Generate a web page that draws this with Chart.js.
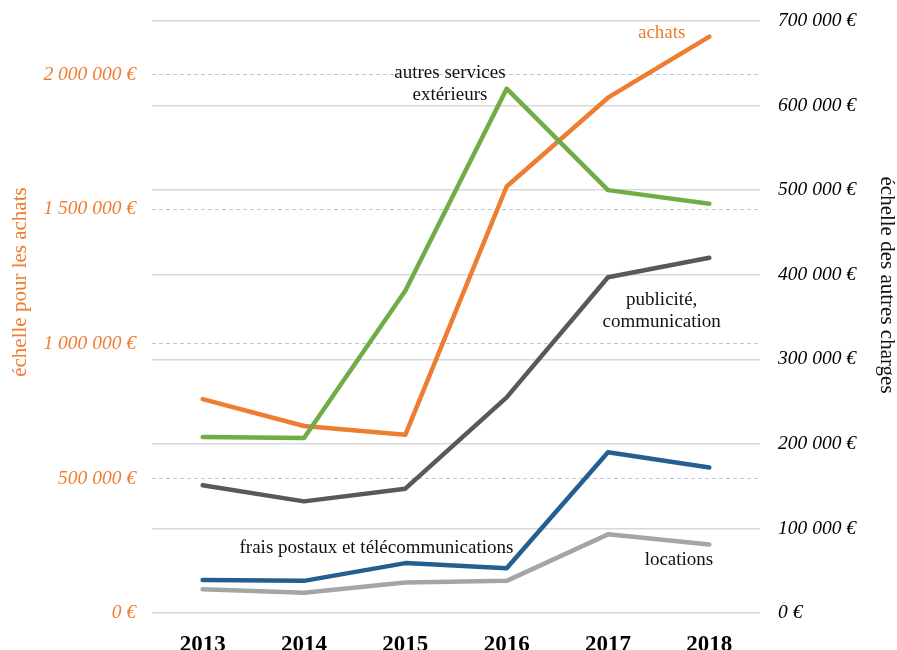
<!DOCTYPE html>
<html lang="fr">
<head>
<meta charset="utf-8">
<title>Achats et autres charges 2013-2018</title>
<script src="https://cdn.jsdelivr.net/npm/chart.js@4/dist/chart.umd.min.js"></script>
<style>
  html, body { margin: 0; padding: 0; background: #fff; }
  #chart-box { width: 897px; height: 650px; }
</style>
</head>
<body>
<div id="chart-box"><canvas id="charges-chart" width="897" height="650"></canvas></div>
<script>
// années et montants (en euros)
const annees = ["2013", "2014", "2015", "2016", "2017", "2018"];
const achats = [795000, 695000, 662000, 1585000, 1915000, 2142000];
const autresServices = [208000, 207000, 381000, 620000, 500000, 484000];
const publicite = [151000, 132000, 147000, 255000, 397000, 420000];
const fraisPostaux = [39000, 38000, 59000, 53000, 190000, 172000];
const locations = [28000, 24000, 36000, 38000, 93000, 81000];

// graduations des deux axes
const ticksAchats = [0, 500000, 1000000, 1500000, 2000000];
const ticksAutres = [0, 100000, 200000, 300000, 400000, 500000, 600000, 700000];

const SERIF = "'Liberation Serif', 'Times New Roman', serif";
const ORANGE = "#ed7d31";

function euros(v) {
  return String(v).replace(/\B(?=(\d{3})+(?!\d))/g, " ") + " €";
}

// étiquettes posées dans le graphique (x = indice d'année, y = échelle de droite)
const notes = [
  { lines: ["achats"], x: 4.53, y: 686000, color: ORANGE },
  { lines: ["autres services", "extérieurs"], x: 2.44, y: 638000, color: "#111" },
  { lines: ["publicité,", "communication"], x: 4.53, y: 370000, color: "#111" },
  { lines: ["frais postaux et télécommunications"], x: 1.715, y: 77000, color: "#111" },
  { lines: ["locations"], x: 4.70, y: 63000, color: "#111" }
];

const notesPlugin = {
  id: "notes",
  afterDatasetsDraw(chart) {
    const { ctx, chartArea } = chart;
    const { x, y1 } = chart.scales;
    ctx.save();
    ctx.textAlign = "center";
    ctx.textBaseline = "middle";
    ctx.font = "19px " + SERIF;
    notes.forEach((n) => {
      ctx.fillStyle = n.color;
      const px = x.getPixelForValue(n.x);
      const py = y1.getPixelForValue(n.y);
      n.lines.forEach((line, i) => ctx.fillText(line, px, py + i * 22));
    });

    // titres des axes
    ctx.font = "21px " + SERIF;
    const h = chartArea.bottom - chartArea.top;
    ctx.save();
    ctx.translate(20, chartArea.top + h * 0.441);
    ctx.rotate(-Math.PI / 2);
    ctx.fillStyle = ORANGE;
    ctx.fillText("échelle pour les achats", 0, 0);
    ctx.restore();
    ctx.save();
    ctx.translate(887, chartArea.top + h * 0.446);
    ctx.rotate(Math.PI / 2);
    ctx.fillStyle = "#111";
    ctx.fillText("échelle des autres charges", 0, 0);
    ctx.restore();
    ctx.restore();
  }
};

function serie(label, data, color, axis, order) {
  return {
    label: label,
    data: data,
    yAxisID: axis,
    borderColor: color,
    backgroundColor: color,
    borderWidth: 4.5,
    borderCapStyle: "round",
    borderJoinStyle: "round",
    pointRadius: 0,
    tension: 0,
    order: order
  };
}

// largeur fixe des axes verticaux, sans marge haute/basse automatique
function fixWidth(w) {
  return (s) => {
    s.width = w;
    s.paddingTop = 0;
    s.paddingBottom = 0;
  };
}

new Chart(document.getElementById("charges-chart"), {
  type: "line",
  data: {
    labels: annees,
    datasets: [
      serie("achats", achats, ORANGE, "y", 10),
      serie("autres services extérieurs", autresServices, "#70ad47", "y1", 1),
      serie("publicité, communication", publicite, "#595959", "y1", 2),
      serie("frais postaux et télécommunications", fraisPostaux, "#255e91", "y1", 3),
      serie("locations", locations, "#a5a5a5", "y1", 4)
    ]
  },
  options: {
    responsive: false,
    animation: false,
    layout: { padding: { top: 21, left: 0, right: 0, bottom: 0 } },
    plugins: {
      legend: { display: false },
      tooltip: { enabled: false }
    },
    scales: {
      x: {
        offset: true,
        afterFit: (s) => { s.height = 37; },
        grid: { display: false },
        border: { display: false },
        ticks: {
          color: "#000",
          padding: 10,
          font: { family: SERIF, size: 23, weight: "bold" }
        }
      },
      y: {
        position: "left",
        min: 0,
        max: 2200000,
        afterFit: fixWidth(152),
        afterBuildTicks: (s) => { s.ticks = ticksAchats.map((v) => ({ value: v })); },
        grid: {
          drawTicks: false,
          lineWidth: 1,
          color: (c) => (c.tick && c.tick.value === 0 ? "rgba(0,0,0,0)" : "#b4c7e7")
        },
        border: { display: false, dash: [4, 3] },
        ticks: {
          color: ORANGE,
          padding: 16,
          font: { family: SERIF, size: 19.5, style: "italic" },
          callback: (v) => euros(v)
        }
      },
      y1: {
        position: "right",
        min: 0,
        max: 700000,
        afterFit: fixWidth(137),
        afterBuildTicks: (s) => { s.ticks = ticksAutres.map((v) => ({ value: v })); },
        grid: { drawTicks: false, lineWidth: 1.5, color: "#d9d9d9" },
        border: { display: false },
        ticks: {
          color: "#000",
          padding: 18,
          font: { family: SERIF, size: 19.5, style: "italic" },
          callback: (v) => euros(v)
        }
      }
    }
  },
  plugins: [notesPlugin]
});
</script>
</body>
</html>
